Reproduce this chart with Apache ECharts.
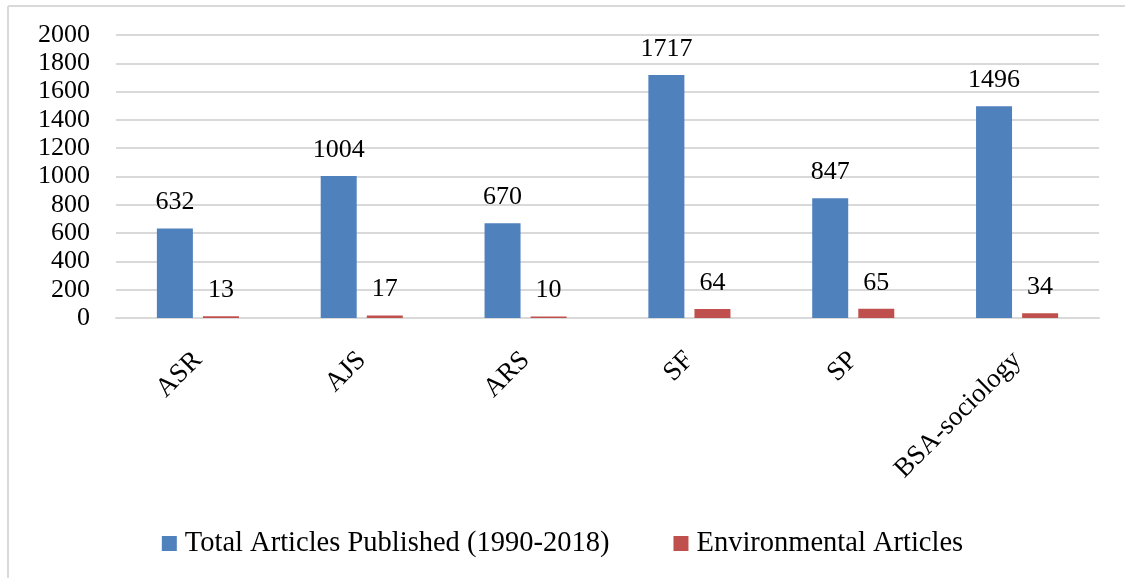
<!DOCTYPE html>
<html>
<head>
<meta charset="utf-8">
<script src="https://cdn.jsdelivr.net/npm/echarts@6/dist/echarts.min.js"></script>
<style>
  html, body { margin: 0; padding: 0; background: #fff; }
  #chart { width: 1125px; height: 578px; }
</style>
</head>
<body>
<div id="chart"></div>
<script>
// journals
const journals = ['ASR', 'AJS', 'ARS', 'SF', 'SP', 'BSA-sociology'];
// article counts
const totalArticles = [632, 1004, 670, 1717, 847, 1496];
const envArticles = [13, 17, 10, 64, 65, 34];
const seriesNames = ['Total Articles Published (1990-2018)', 'Environmental Articles'];

const serif = '"Liberation Serif", "DejaVu Serif", serif';
const chart = echarts.init(document.getElementById('chart'));

const labelStyle = {
  show: true,
  position: 'top',
  distance: 13,
  color: '#000',
  fontFamily: serif,
  fontSize: 26
};

const option = {
  animation: false,
  color: ['#4F81BD', '#C0504D'],
  graphic: [
    { type: 'line', shape: { x1: 8, y1: 6, x2: 1125, y2: 6 }, style: { stroke: '#d9d9d9', lineWidth: 2 } },
    { type: 'line', shape: { x1: 8, y1: 6, x2: 8, y2: 578 }, style: { stroke: '#d9d9d9', lineWidth: 2 } }
  ],
  grid: { left: 116, right: 26, top: 35, bottom: 260 },
  legend: {
    top: 524,
    left: 'center',
    itemWidth: 15,
    itemHeight: 15,
    itemGap: 64,
    icon: 'rect',
    textStyle: { fontFamily: serif, fontSize: 28.5, color: '#000', padding: [0, 0, 0, 3] },
    data: seriesNames
  },
  xAxis: {
    type: 'category',
    data: journals,
    axisLine: { lineStyle: { color: '#d9d9d9', width: 2 } },
    axisTick: { show: false },
    axisLabel: {
      rotate: 45,
      margin: 38,
      color: '#000',
      fontFamily: serif,
      fontSize: 27
    }
  },
  yAxis: {
    type: 'value',
    min: 0,
    max: 2000,
    interval: 200,
    axisLine: { show: false },
    axisTick: { show: false },
    splitLine: { lineStyle: { color: '#d9d9d9', width: 2 } },
    axisLabel: {
      margin: 26,
      color: '#000',
      fontFamily: serif,
      fontSize: 26,
      formatter: function (v) { return String(v); }
    }
  },
  series: [
    {
      name: seriesNames[0],
      type: 'bar',
      data: totalArticles,
      barWidth: 36,
      barGap: '28%',
      label: labelStyle
    },
    {
      name: seriesNames[1],
      type: 'bar',
      data: envArticles,
      barWidth: 36,
      label: labelStyle
    }
  ]
};
chart.setOption(option);
</script>
</body>
</html>
